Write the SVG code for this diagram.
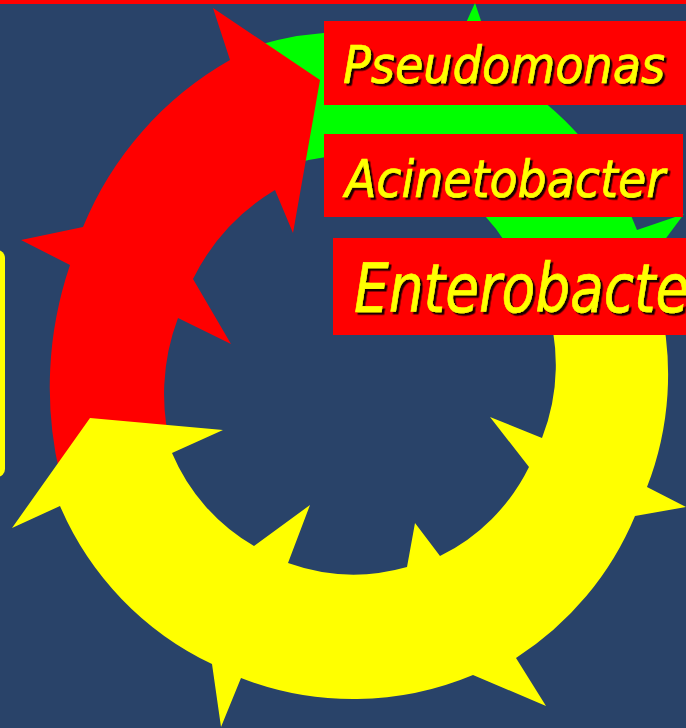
<svg xmlns="http://www.w3.org/2000/svg" width="686" height="728" viewBox="0 0 686 728">
  <defs>
    <filter id="sh" x="-5%" y="-20%" width="115%" height="150%">
      <feDropShadow dx="2.5" dy="2.5" stdDeviation="0.6" flood-color="#000000" flood-opacity="0.9"/>
    </filter>
    <style>
      .box { fill: #FF0000; }
      .lbl { fill: #FFFF00; stroke: #FFFF00; stroke-width: 0.6; font-family: "DejaVu Sans Condensed", "DejaVu Sans", "Liberation Sans", sans-serif; font-style: italic; filter: url(#sh); }
      .green { fill: #00FF00; }
      .red { fill: #FF0000; }
      .yellow { fill: #FFFF00; }
    </style>
  </defs>

  <rect x="0" y="0" width="686" height="728" fill="#294369"/>
  <rect x="0" y="0" width="686" height="4" fill="#FF0000"/>
  <rect x="-20" y="250" width="25" height="227" rx="8" fill="#FFFF00"/>

  <g id="connectors">
    <path id="arrow-green" class="green" d="M252,47 A311,311 0 0 1 453.4,50.4 L475,3 L497.8,70.5 A311,311 0 0 1 637,230 L684,214 L620,300 L476,293 L522,275 A187,187 0 0 0 290,165 Z"/>
    <path id="arrow-red" class="red" d="M60,475 A380,380 0 0 1 70,265 L21,240 L83,227 A340,340 0 0 1 230,60 L213,8 L320,80 L293,233 L275,190 A215,215 0 0 0 193,279 L231,344 L178,318 A215,215 0 0 0 172,452 Z"/>
    <path id="arrow-yellow" class="yellow" d="M90,418 L223,430 L172,453 A195,195 0 0 0 254,546 L310,505 L288,563 A195,195 0 0 0 407,567 L415,523 L440,556 A195,195 0 0 0 529,467 L490,417 L542,438 A200,200 0 0 0 545,300 L659,300 A310,310 0 0 1 647,487 L686,507 L635,516 A310,310 0 0 1 516,658 L546,706 L473,675 A310,310 0 0 1 241,678 L221,727 L212,664 A310,310 0 0 1 60,506 L12,528 Z"/>
  </g>

  <g id="pseudomonas">
    <rect class="box" x="324" y="21" width="362" height="84"/>
    <text class="lbl" x="343" y="83" font-size="52" textLength="322" lengthAdjust="spacingAndGlyphs">Pseudomonas</text>
  </g>
  <g id="acinetobacter">
    <rect class="box" x="324" y="134" width="359" height="83"/>
    <text class="lbl" x="345" y="197" font-size="52" textLength="320" lengthAdjust="spacingAndGlyphs">Acinetobacter</text>
  </g>
  <g id="enterobacter">
    <rect class="box" x="333" y="238" width="353" height="97"/>
    <text class="lbl" x="354" y="312" font-size="67" textLength="358" lengthAdjust="spacingAndGlyphs">Enterobacter</text>
  </g>
</svg>
